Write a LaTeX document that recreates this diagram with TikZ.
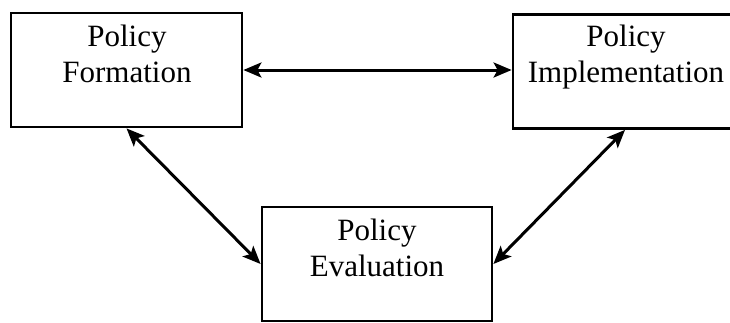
\documentclass[tikz,border=0pt]{standalone}
\usepackage{fontspec}
\setmainfont{Liberation Serif}
\usetikzlibrary{arrows.meta}
\begin{document}
\begin{tikzpicture}[x=1pt,y=-1pt,
  box/.style={draw=black, line width=2.8pt, minimum width=#1, minimum height=114pt, inner sep=0pt},
  lbl/.style={anchor=base, align=center, inner sep=0pt, font=\fontsize{31}{35.5}\selectfont},
  link/.style={line width=3pt, {Stealth[length=18pt,width=15pt,inset=4pt]}-{Stealth[length=18pt,width=15pt,inset=4pt]}}]
\clip (0,0) rectangle (730,322);
\fill[white] (0,0) rectangle (730,322);
\node[box=231pt] (lb) at (126.5,70) {};
\node[box=224pt] (rb) at (625,71.5) {};
\node[box=230pt] (bb) at (377,264) {};
\node[lbl] (lt) at (127,82) {Policy\\Formation};
\node[lbl] (rt) at (626,82) {Policy\\Implementation};
\node[lbl] (bt) at (377,276) {Policy\\Evaluation};
\draw[link] (lb.east) -- (lb.east -| rb.west);
\draw[link] (lb.south) -- (bb.west);
\draw[link] (rb.south) -- (bb.east);
\end{tikzpicture}
\end{document}
